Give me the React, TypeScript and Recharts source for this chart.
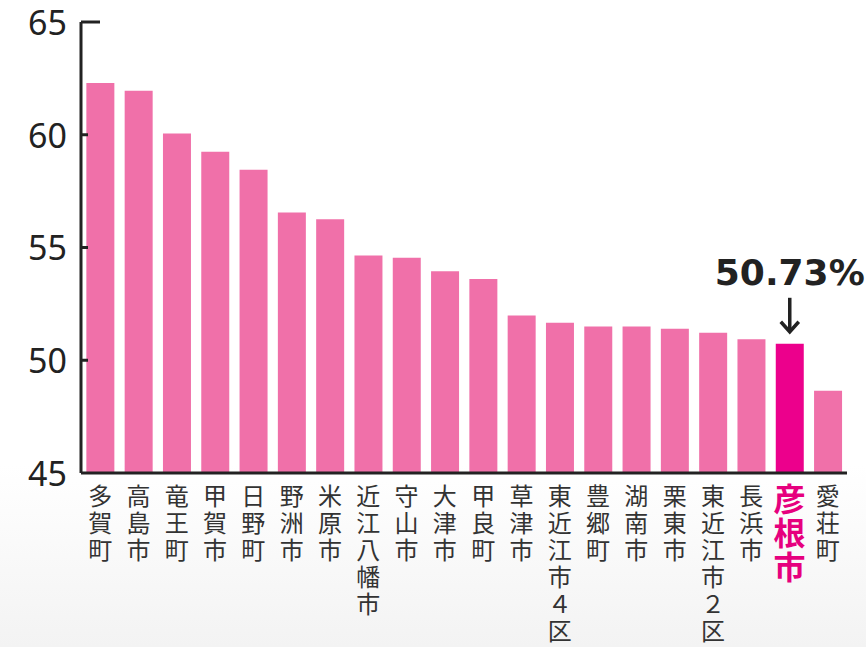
import React from 'react';
import { BarChart, Bar, XAxis, YAxis, Cell, LabelList } from 'recharts';

const categories = ['多賀町', '高島市', '竜王町', '甲賀市', '日野町', '野洲市', '米原市', '近江八幡市', '守山市', '大津市', '甲良町', '草津市', '東近江市４区', '豊郷町', '湖南市', '栗東市', '東近江市２区', '長浜市', '彦根市', '愛荘町'];
const values = [62.3, 61.95, 60.05, 59.25, 58.45, 56.55, 56.25, 54.65, 54.55, 53.95, 53.6, 51.98, 51.66, 51.5, 51.5, 51.4, 51.22, 50.93, 50.73, 48.65];
const yTicks = [45, 50, 55, 60, 65];
const highlight = '彦根市';
const annotationText = '50.73%';

const data = categories.map((name, i) => ({ name, value: values[i] }));

const BAR_COLOR = '#F070A9';
const HL_COLOR = '#EC008C';
const INK = '#222222';

const Y_MARGIN = 14;

const YTick = (props: any) => {
  const { x, y, payload } = props;
  const ax = x + Y_MARGIN;
  const v = payload.value;
  return (
    <g>
      <text x={x} y={y} dy="0.38em" textAnchor="end" fontSize={34} fill={INK} fontFamily="'Noto Sans', sans-serif">
        {v}
      </text>
      {v !== 45 && (
        <line x1={ax} x2={ax + (v === 65 ? 19 : 7)} y1={y} y2={y} stroke={INK} strokeWidth={3} />
      )}
    </g>
  );
};

const XTick = (props: any) => {
  const { x, y, payload } = props;
  const hl = payload.value === highlight;
  const fs = hl ? 32 : 24;
  const spacing = hl ? 2 : 3;
  const top = hl ? 10 : 11;
  return (
    <text
      x={x}
      y={y + top}
      textAnchor="start"
      fontSize={fs}
      fontWeight={hl ? 700 : 400}
      fill={hl ? '#E6007E' : '#333333'}
      fontFamily="'Noto Sans CJK JP', sans-serif"
      letterSpacing={spacing}
      style={{ writingMode: 'vertical-rl' as any }}
    >
      {payload.value}
    </text>
  );
};

const Annotation = (props: any) => {
  const { x, y, width, index } = props;
  if (categories[index] !== highlight) return null;
  const cx = x + width / 2;
  return (
    <g>
      <text x={cx} y={y - 59} textAnchor="middle" fontSize={36} fontWeight={700} fill={INK} fontFamily="'DejaVu Sans', sans-serif">
        {annotationText}
      </text>
      <line x1={cx} x2={cx} y1={y - 46} y2={y - 12} stroke={INK} strokeWidth={3.5} />
      <polyline points={`${cx - 9},${y - 22} ${cx},${y - 12} ${cx + 9},${y - 22}`} fill="none" stroke={INK} strokeWidth={3.5} />
    </g>
  );
};

export default function App() {
  return (
    <div
      style={{
        position: 'absolute',
        left: 0,
        top: 0,
        width: 866,
        height: 647,
        background: 'linear-gradient(to bottom, #ffffff 0%, #ffffff 72%, #f3f3f3 100%)',
      }}
    >
      <BarChart
        width={866}
        height={647}
        data={data}
        margin={{ top: 22, right: 19, left: 0, bottom: 0 }}
        barCategoryGap="14%"
      >
        <XAxis
          dataKey="name"
          interval={0}
          height={174}
          tickLine={false}
          tickSize={0}
          tickMargin={0}
          axisLine={{ stroke: INK, strokeWidth: 3 }}
          tick={<XTick />}
        />
        <YAxis
          domain={[45, 65]}
          ticks={yTicks}
          width={81}
          tickLine={false}
          tickSize={0}
          tickMargin={Y_MARGIN}
          axisLine={{ stroke: INK, strokeWidth: 3 }}
          tick={<YTick />}
          allowDataOverflow
        />
        <Bar dataKey="value" isAnimationActive={false}>
          {data.map((d, i) => (
            <Cell key={i} fill={d.name === highlight ? HL_COLOR : BAR_COLOR} />
          ))}
          <LabelList dataKey="value" content={<Annotation />} />
        </Bar>
      </BarChart>
    </div>
  );
}
